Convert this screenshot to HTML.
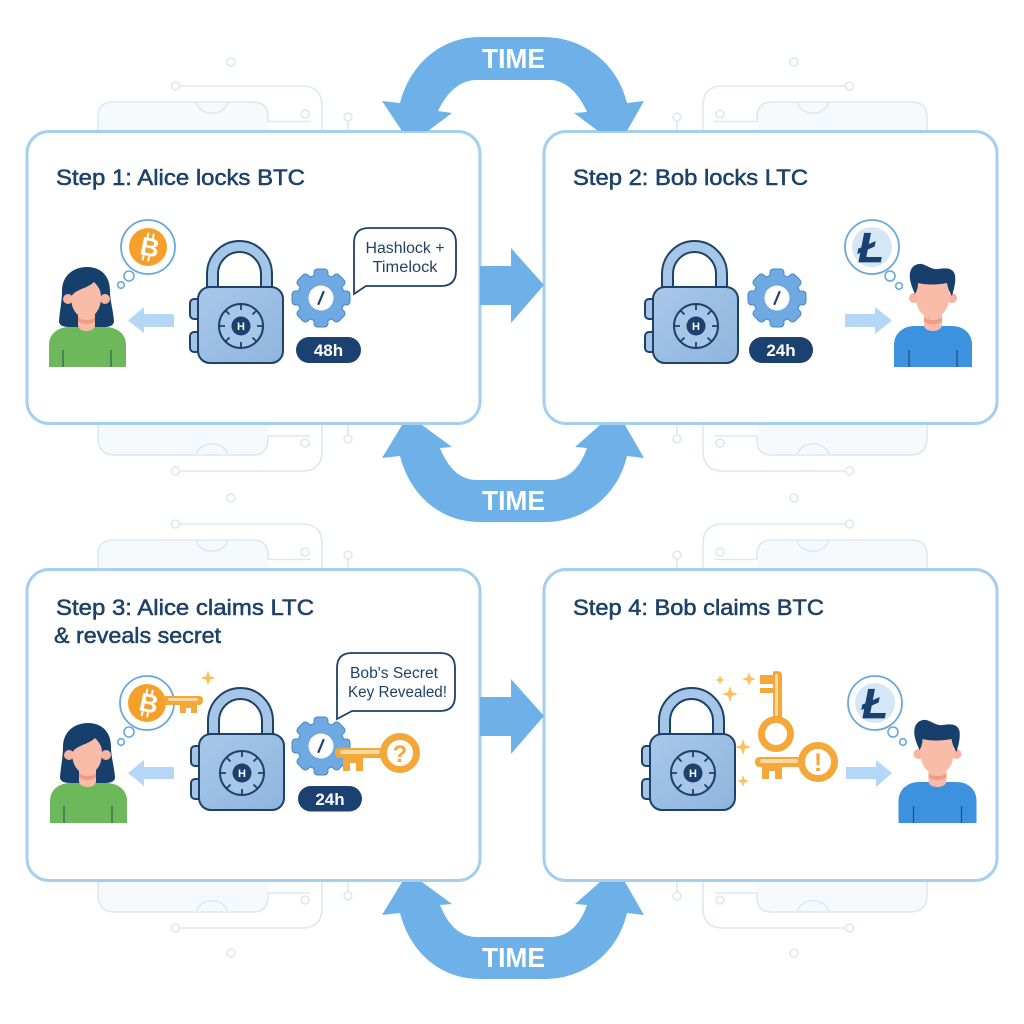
<!DOCTYPE html>
<html><head><meta charset="utf-8"><style>html,body{margin:0;padding:0;background:#fff}svg{display:block}text{font-family:"Liberation Sans",sans-serif}</style></head><body>
<svg width="1024" height="1024" viewBox="0 0 1024 1024" xmlns="http://www.w3.org/2000/svg">
<defs>
<linearGradient id="body" x1="0" y1="0" x2="1" y2="1"><stop offset="0" stop-color="#a9c8ea"/><stop offset="1" stop-color="#8fb4de"/></linearGradient>
<g id="bgTop" fill="none" stroke="#dbe9f3" stroke-width="1.6">
<path d="M98 131V117Q98 102 113 102H253Q268 102 268 117V131Z" fill="#f6fafd" stroke="none"/>
<path d="M98 131V117Q98 102 113 102H253Q268 102 268 117V121.500H311"/>
<path d="M196 102C200 117 224 117 228 102"/>
<circle cx="305" cy="114" r="4" fill="#fff"/>
<path d="M180 86H302Q322 86 322 106V131"/><circle cx="175.500" cy="86" r="4" fill="#fff"/>
<path d="M348 121V131"/><circle cx="348" cy="117" r="4" fill="#fff"/>
</g>
<g id="bgBot" fill="none" stroke="#dbe9f3" stroke-width="1.6">
<path d="M98 424V438Q98 455 115 455H253Q268 455 268 440V424Z" fill="#f6fafd" stroke="none"/>
<path d="M98 424V438Q98 455 115 455H253Q268 455 268 440V436H310"/>
<path d="M196 455C200 440 224 440 228 455"/>
<circle cx="305" cy="443" r="4" fill="#fff"/>
<path d="M180 471H302Q322 471 322 451V424"/><circle cx="175.500" cy="471" r="4" fill="#fff"/>
<path d="M348 424V435"/><circle cx="348" cy="439" r="4" fill="#fff"/>
</g>
<path id="arcTop" fill="#6db1e8" d="M480 37H543C585 37 618 65 627 103L644 101L627 131H598L574 113L587 112C578 92 565 80 550 80H477C460 80 447 92 438 111L452 113L428 131H402L382 101L400 103C410 65 440 37 480 37Z"/>
<path id="arcBot" fill="#6db1e8" d="M402 425H422L452 447L440 448C448 468 460 480 477 480H550C568 480 580 468 587 448L575 447L600 425H625L644 458L627 456C618 495 585 522 545 522H480C440 522 410 495 400 456L382 458Z"/>
<path id="big" fill="#6db1e8" d="M480 266H511V248L544 285L511 323V305H480Z"/>
<g id="lock">
<path d="M-34 -39V-52A32.500 33 0 0 1 31 -52V-39H20V-52A21.500 22 0 0 0 -23 -52V-39Z" fill="#a6c6e8" stroke="#1d4268" stroke-width="2"/>
<rect x="-51" y="-27" width="11" height="20" rx="4" fill="#a5c4e6" stroke="#1d4268" stroke-width="2"/>
<rect x="-51" y="6" width="11" height="20" rx="4" fill="#a5c4e6" stroke="#1d4268" stroke-width="2"/>
<rect x="-43" y="-39" width="85" height="76" rx="12" fill="url(#body)" stroke="#1d4268" stroke-width="2"/>
<circle r="22" fill="#a7c6e8" stroke="#1d4268" stroke-width="2"/>
<g stroke="#1d4268" stroke-width="1.800"><path d="M0 -22V-16M0 22V16M-22 0H-16M22 0H16M-15.500 -15.500L-11.500 -11.500M15.500 15.500L11.500 11.500M-15.500 15.500L-11.500 11.500M15.500 -15.500L11.500 -11.500"/></g>
<circle r="9.500" fill="#1b4170"/>
</g>
<g id="gs"><circle r="23"/><rect x="-6.500" y="-28.500" width="13" height="57" rx="3"/><rect x="-6.500" y="-28.500" width="13" height="57" rx="3" transform="rotate(45)"/><rect x="-6.500" y="-28.500" width="13" height="57" rx="3" transform="rotate(90)"/><rect x="-6.500" y="-28.500" width="13" height="57" rx="3" transform="rotate(135)"/></g>
<g id="gear">
<use href="#gs" fill="#4a86c5" stroke="#4a86c5" stroke-width="2"/>
<use href="#gs" fill="#6ea9e2"/>
<circle r="12.500" fill="#fff"/>
<path d="M2.500 -6L-2.500 6" stroke="#1d4268" stroke-width="2.200" stroke-linecap="round"/>
</g>
<g id="alice">
<path d="M-28 -46C-27 -58 -25 -66 -25 -76C-25 -92 -13 -100 0 -100C13 -100 23 -92 23 -76C23 -66 26 -58 27 -46C27 -41 22 -40 17 -40H-17C-23 -40 -28 -41 -28 -46Z" fill="#173f6b"/>
<path d="M-38 0V-22C-38 -34 -28 -40 -18 -40H18C29 -40 39 -34 39 -22V0Z" fill="#6cb85a"/>
<path d="M-9 -56H8V-42C8 -38 4 -36 0 -36C-5 -36 -9 -38 -9 -42Z" fill="#f9bca8"/>
<circle cx="-19" cy="-68" r="5" fill="#f7b4a0"/><circle cx="18" cy="-68" r="5" fill="#f7b4a0"/>
<path d="M-9 -50C-5 -46 4 -46 8 -50V-46C4 -42 -5 -42 -9 -46Z" fill="#f09c85"/>
<path d="M-16 -70C-16 -56 -8 -49 -1 -49C6 -49 14 -56 14 -70C14 -76 12 -80 7 -85C0 -78 -12 -78 -16 -70Z" fill="#f9bca8"/>
<path d="M-24 -17V0M24 -17V0" stroke="#2f6650" stroke-width="1.200"/>
</g>
<g id="bob">
<path d="M-39 0V-22C-39 -34 -29 -41 -19 -41H19C30 -41 39 -34 39 -22V0Z" fill="#3d92e0"/>
<path d="M-9 -56H9V-42C9 -38 4 -36 0 -36C-5 -36 -9 -38 -9 -42Z" fill="#f9bca8"/>
<circle cx="-19" cy="-69" r="5" fill="#f7b4a0"/><circle cx="19" cy="-69" r="5" fill="#f7b4a0"/>
<path d="M-9 -50C-5 -46 5 -46 9 -50V-46C5 -42 -5 -42 -9 -46Z" fill="#f09c85"/>
<path d="M-17 -86H16V-70C16 -56 8 -49 -1 -49C-9 -49 -17 -56 -17 -70Z" fill="#f9bca8"/>
<path d="M-18 -73C-22 -82 -24 -88 -23 -94C-22 -101 -16 -104 -11 -103C-5 -101 0 -97 5 -98C12 -99 20 -100 22 -92C23 -85 21 -78 19 -71C17 -74 15 -78 14 -84C5 -82 -8 -82 -15 -84C-15 -80 -16 -76 -18 -73Z" fill="#173f6b"/>
<path d="M-24 -17V0M24 -17V0" stroke="#1f4f80" stroke-width="1.200"/>
</g>
<g id="btcB">
<circle r="27" fill="#fff" stroke="#6aa8d8" stroke-width="1.800"/><circle r="19" fill="#f5a02b"/>
<path d="M-2.500 -14V-9M3 -14V-9M-2.500 9V14M3 9V14" stroke="#fff" stroke-width="2" transform="rotate(12)"/>
</g>
<g id="ltcB">
<circle r="27" fill="#fff" stroke="#6aa8d8" stroke-width="1.800"/><circle r="20" fill="#d5e7f7"/>
</g>
<path id="star" fill="#fbc15c" d="M0 -1L.25 -.25L1 0L.25 .25L0 1L-.25 .25L-1 0L-.25 -.25Z"/>
</defs>
<rect width="1024" height="1024" fill="#fff"/>

<!-- faint circuit background -->
<use href="#bgTop"/><use href="#bgBot"/>
<use href="#bgTop" transform="translate(0,438)"/><use href="#bgBot" transform="translate(0,457)"/>
<g transform="translate(1025,0) scale(-1,1)"><use href="#bgTop"/><use href="#bgBot"/><use href="#bgTop" transform="translate(0,438)"/><use href="#bgBot" transform="translate(0,457)"/></g>
<g fill="#fff" stroke="#dbe9f3" stroke-width="1.600"><circle cx="231" cy="62" r="4"/><circle cx="794" cy="62" r="4"/><circle cx="231" cy="498" r="4"/><circle cx="794" cy="498" r="4"/><circle cx="231" cy="953" r="4"/><circle cx="794" cy="953" r="4"/></g>

<!-- panels -->
<g fill="#fff" stroke="#a5cfee" stroke-width="3">
<rect x="27" y="131.500" width="453" height="292" rx="22"/>
<rect x="544" y="131.500" width="453" height="292" rx="22"/>
<rect x="27" y="569.500" width="453" height="311" rx="22"/>
<rect x="544" y="569.500" width="453" height="311" rx="22"/>
</g>

<!-- time arrows -->
<use href="#arcTop"/><use href="#arcBot"/><use href="#arcBot" transform="translate(0,457)"/>
<g fill="#fff" font-size="28" font-weight="700" text-anchor="middle">
<text x="513.500" y="68" textLength="63" lengthAdjust="spacingAndGlyphs">TIME</text>
<text x="513.500" y="510" textLength="63" lengthAdjust="spacingAndGlyphs">TIME</text>
<text x="513.500" y="967" textLength="63" lengthAdjust="spacingAndGlyphs">TIME</text>
</g>
<use href="#big"/><use href="#big" transform="translate(0,431)"/>

<!-- titles -->
<g fill="#1d4268" stroke="#1d4268" stroke-width=".55" font-size="22.500">
<text x="56" y="185" textLength="249" lengthAdjust="spacingAndGlyphs">Step 1: Alice locks BTC</text>
<text x="573" y="185" textLength="235" lengthAdjust="spacingAndGlyphs">Step 2: Bob locks LTC</text>
<text x="56" y="615" textLength="258" lengthAdjust="spacingAndGlyphs">Step 3: Alice claims LTC</text>
<text x="54" y="643" textLength="167" lengthAdjust="spacingAndGlyphs">&amp; reveals secret</text>
<text x="573" y="615" textLength="251" lengthAdjust="spacingAndGlyphs">Step 4: Bob claims BTC</text>
</g>

<!-- locks -->
<use href="#lock" transform="translate(241,326)"/><use href="#lock" transform="translate(696,326)"/><use href="#lock" transform="translate(242,773)"/><use href="#lock" transform="translate(693,773)"/>
<g fill="#fff" font-size="11" font-weight="700" text-anchor="middle">
<text x="241" y="330">H</text><text x="696" y="330">H</text><text x="242" y="777">H</text><text x="693" y="777">H</text>
</g>

<!-- gears -->
<use href="#gear" transform="translate(321,298)"/><use href="#gear" transform="translate(777,298)"/><use href="#gear" transform="translate(321,746)"/>

<!-- pills -->
<g fill="#1b4170"><rect x="296" y="337" width="65" height="26" rx="13"/><rect x="749" y="337" width="64" height="26" rx="13"/><rect x="298" y="786" width="64" height="25.500" rx="12.750"/></g>
<g fill="#fff" font-size="17" font-weight="700" text-anchor="middle">
<text x="328.500" y="356">48h</text><text x="781" y="356">24h</text><text x="330" y="805">24h</text>
</g>

<!-- callouts -->
<g fill="#fff" stroke="#1d4268" stroke-width="1.800">
<path d="M369 228H441Q456 228 456 243V271Q456 286 441 286H366L354 294V243Q354 228 369 228Z"/>
<path d="M352 653H440Q455 653 455 668V696Q455 711 440 711H352L337 719V668Q337 653 352 653Z"/>
</g>
<g fill="#1d4268" font-size="15.500" text-anchor="middle">
<text x="405" y="253" textLength="79" lengthAdjust="spacingAndGlyphs">Hashlock +</text>
<text x="405" y="272" textLength="65" lengthAdjust="spacingAndGlyphs">Timelock</text>
<text x="394" y="678" textLength="88" lengthAdjust="spacingAndGlyphs">Bob's Secret</text>
<text x="397.500" y="697" textLength="99" lengthAdjust="spacingAndGlyphs">Key Revealed!</text>
</g>

<!-- people -->
<use href="#alice" transform="translate(87,367)"/><use href="#alice" transform="translate(88,823)"/>
<use href="#bob" transform="translate(933,367)"/><use href="#bob" transform="translate(937.500,823)"/>

<!-- small arrows -->
<g fill="#b3d7f4">
<path d="M174 314V327H144V333L128 320.500L144 307V314Z"/>
<path d="M174 767V779H144V786L128 773L144 760V767Z"/>
<path d="M845 314H875V307L892 320.500L875 334V327H845Z"/>
<path d="M846 767H876V760L892 773L876 787V779H846Z"/>
</g>

<!-- thought bubbles -->
<use href="#btcB" transform="translate(148,247)"/>
<use href="#btcB" transform="translate(147,703)"/>
<use href="#ltcB" transform="translate(872,247)"/>
<use href="#ltcB" transform="translate(875,703)"/>
<g fill="#fff" stroke="#6aa8d8" stroke-width="1.600">
<circle cx="129" cy="276" r="5"/><circle cx="121" cy="285" r="3.300"/>
<circle cx="129" cy="732" r="5"/><circle cx="121" cy="742" r="3.300"/>
<circle cx="890" cy="276" r="5"/><circle cx="899" cy="286" r="3.300"/>
<circle cx="893" cy="732" r="5"/><circle cx="903" cy="742" r="3.300"/>
</g>
<g fill="#fff" font-size="26" font-weight="700" text-anchor="middle">
<text transform="translate(148,256) rotate(12)">B</text>
<text transform="translate(147,712) rotate(12)">B</text>
</g>
<g fill="#1b4170" stroke="#1b4170" stroke-width=".8" font-size="42" font-weight="700" font-style="italic" text-anchor="middle">
<text x="871" y="262">Ł</text>
<text x="875" y="718">Ł</text>
</g>

<!-- key, panel 3 small -->
<path d="M165 696H199Q203 696 203 700Q203 705 199 705H197V713H191V708H186V713H180V705H165Z" fill="#f5a83a"/>
<rect x="168" y="698" width="30" height="3" rx="1.500" fill="#fbd9a0"/>
<use href="#star" transform="translate(208,678) scale(7.500)"/>

<!-- key, panel 3 big -->
<path d="M340 748H382V758H363V771H356V763H350V771H343V758H340Q335 758 335 753Q335 748 340 748Z" fill="#f5a83a"/>
<rect x="340" y="750" width="40" height="4" rx="2" fill="#fbd9a0"/>
<circle cx="400" cy="753" r="16.500" fill="#fff" stroke="#f5a83a" stroke-width="7"/>
<text x="400" y="762" fill="#f5a83a" font-size="24" font-weight="700" text-anchor="middle">?</text>

<!-- keys, panel 4 -->
<path d="M773 672Q773 671 777.500 671Q782 671 782 676V718H773V693H760V688H773V684H760V675H773Z" fill="#f5a83a"/>
<rect x="775" y="674" width="3" height="42" rx="1.500" fill="#fbd9a0"/>
<circle cx="776" cy="734" r="14.500" fill="#fff" stroke="#f5a83a" stroke-width="7"/>
<path d="M760 757H802V767H782V779H775V771H769V779H762V767H760Q755 767 755 762Q755 757 760 757Z" fill="#f5a83a"/>
<rect x="760" y="759" width="38" height="4" rx="2" fill="#fbd9a0"/>
<circle cx="818" cy="762" r="16.500" fill="#fff" stroke="#f5a83a" stroke-width="7"/>
<text x="818" y="771" fill="#f5a83a" font-size="25" font-weight="700" text-anchor="middle">!</text>
<use href="#star" transform="translate(720,680) scale(5)"/>
<use href="#star" transform="translate(749,679) scale(7)"/>
<use href="#star" transform="translate(730,694) scale(8)"/>
<use href="#star" transform="translate(743,747) scale(8)"/>
<use href="#star" transform="translate(743,781) scale(6)"/>
</svg>
</body></html>
